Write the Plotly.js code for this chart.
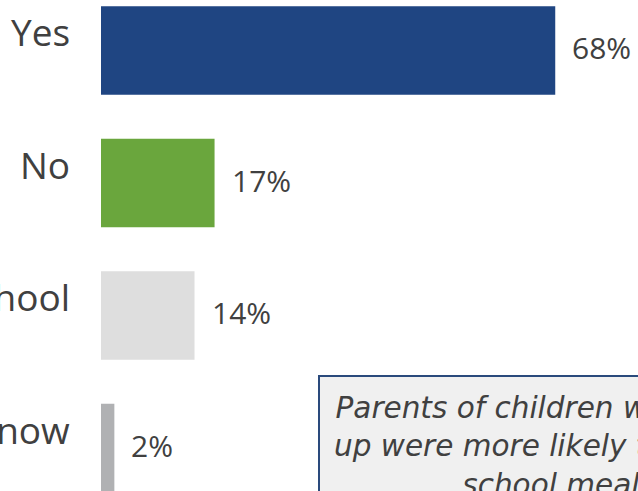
<!DOCTYPE html>
<html>
<head>
<meta charset="utf-8">
<script src="https://cdn.plot.ly/plotly-3.0.1.min.js"></script>
<style>html,body{margin:0;padding:0;background:#fff;overflow:hidden}#chart{width:638px;height:491px}</style>
</head>
<body>
<div id="chart"></div>
<script>
const categories = ["Yes", "No", "My child does not attend school", "Don't know"];
const values = [68, 17, 14, 2];
const valueLabels = ["68%", "17%", "14%", "2%"];
const barColors = ["#1f4582", "#6aa63d", "#dedede", "#b0b1b3"];
const noteLines = ["Parents of children who signed", "up were more likely to rate the", "school meals."];

const W = 638, H = 491, L = 101;
const pxPerUnit = 6.68;
const xMax = (W - L) / pxPerUnit;
const slot = 132.5;
const yTop = -50.5 / slot;
const yBottom = yTop + H / slot;
const textColor = "#404040";
const fontFam = "'Open Sans', 'Noto Sans', sans-serif";

const annotations = [];
categories.forEach((c, i) => {
  annotations.push({
    x: 0, xref: "x", y: c, yref: "y", text: c, showarrow: false,
    xanchor: "right", yanchor: "middle", xshift: -29, yshift: 19,
    font: {family: fontFam, size: 37, color: textColor}
  });
  annotations.push({
    x: values[i], xref: "x", y: c, yref: "y", text: valueLabels[i], showarrow: false,
    xanchor: "left", yanchor: "middle", xshift: 15, yshift: 3,
    font: {family: fontFam, size: 30, color: textColor}
  });
});
annotations.push({
  xref: "paper", yref: "paper", x: (318 - L) / (W - L), y: 1 - 375 / H,
  xanchor: "left", yanchor: "top", text: "<i>" + noteLines.join("<br>") + "</i>", showarrow: false,
  align: "center", bgcolor: "#f0f0f0", bordercolor: "#2a4a7c", borderwidth: 2, borderpad: 14,
  font: {family: "'DejaVu Sans', sans-serif", size: 29.5, color: textColor}
});

Plotly.newPlot("chart", [{
  type: "bar", orientation: "h", x: values, y: categories,
  marker: {color: barColors}, hoverinfo: "none"
}], {
  width: W, height: H,
  margin: {l: L, r: 0, t: 0, b: 0, pad: 0},
  paper_bgcolor: "#ffffff", plot_bgcolor: "#ffffff",
  bargap: 0.332,
  showlegend: false,
  xaxis: {range: [0, xMax], visible: false, fixedrange: true},
  yaxis: {type: "category", range: [yBottom, yTop], showticklabels: false, showgrid: false,
          zeroline: false, showline: false, ticks: "", fixedrange: true, automargin: false},
  annotations: annotations
}, {staticPlot: true, displayModeBar: false});
</script>
</body>
</html>
